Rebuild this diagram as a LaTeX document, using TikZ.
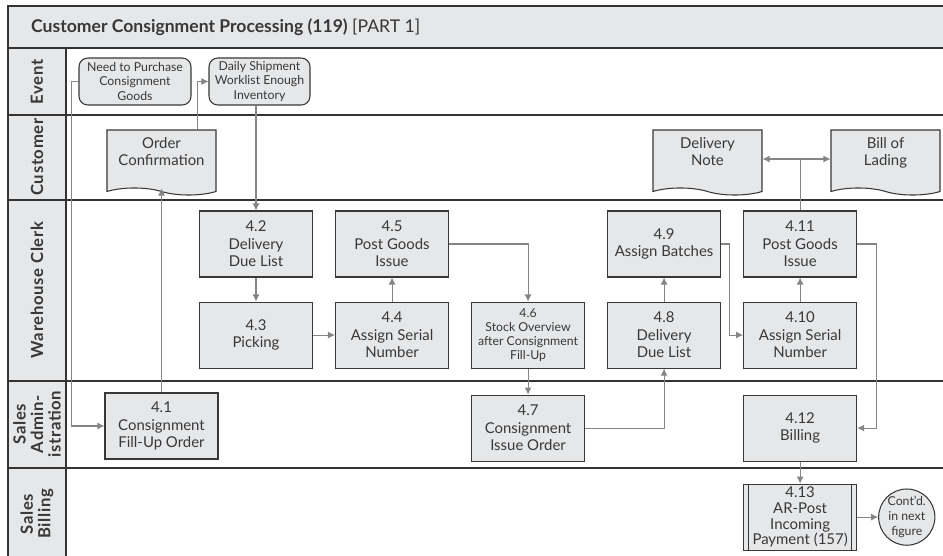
\documentclass[tikz,border=0pt]{standalone}
\usepackage{fontspec}
\setmainfont{Lato}
\usepackage{tikz}
\usetikzlibrary {arrows.meta,
                 positioning,
                 shapes.symbols}
\definecolor{boxgray}{HTML}{E6E7E9}
\definecolor{linegray}{HTML}{858585}
\definecolor{inkgray}{HTML}{383838}
\tikzset{
        base/.style={draw=inkgray, fill=boxgray, align=center, line width=0.6pt,
                     text=inkgray, font=\fontsize{8.5}{10}\selectfont},
        proc/.style={base, rectangle, minimum width=2.26cm,
                     minimum height=1.32cm, inner sep=1pt},
        event/.style={base, rounded corners=5pt, minimum height=0.94cm,
                      inner sep=1pt, font=\fontsize{7}{8.5}\selectfont},
        doc/.style={base, tape, tape bend top=none, tape bend bottom=out and in,
                    tape bend height=4pt, minimum width=2.18cm,
                    minimum height=1.3cm, text depth=0.3cm},
        subproc/.style={proc, font=\fontsize{8.5}{9}\selectfont,
                        path picture={
                          \draw[inkgray, line width=0.6pt]
                            ([xshift=0.1cm]path picture bounding box.north west) --
                            ([xshift=0.1cm]path picture bounding box.south west);
                          \draw[inkgray, line width=0.6pt]
                            ([xshift=-0.1cm]path picture bounding box.north east) --
                            ([xshift=-0.1cm]path picture bounding box.south east);
                        }},
        connector/.style={base, circle, minimum size=1.08cm, inner sep=0pt,
                          font=\fontsize{7}{8.5}\selectfont},
        lanelabel/.style={rotate=90, align=center, text=inkgray,
                          font=\bfseries\fontsize{9.5}{10}\selectfont
                               \addfontfeature{LetterSpace=4}},
        lane/.style={draw=black!80, line width=0.6pt},
        myarrow/.style={-{Latex[length=4pt, width=4pt]}, draw=linegray,
                        line width=0.6pt},
 }

\begin{document}
\begin{tikzpicture}[x=0.02cm, y=-0.02cm, node distance=0.48cm and 0.44cm]
    \useasboundingbox (0,0) rectangle (943,555);

    \fill[boxgray] (8,6) rectangle (960,48);
    \fill[boxgray] (8,48) rectangle (66,570);
    \draw[lane] (8,570) -- (8,6) -- (960,6);
    \draw[lane] (66,48) -- (66,570);
    \foreach \y in {48,115,200,381,468}
        \draw[lane] (8,\y) -- (960,\y);

    \node[anchor=west, text=inkgray, font=\fontsize{10}{12}\selectfont] (title) at (25,27)
         {\textbf{Customer Consignment Processing (119)} [PART 1]};

    \foreach \y/\t/\n in {82/Event/l1, 157/Customer/l2, 290/Warehouse Clerk/l3,
                          424/{Sales\\Admin-\\istration}/l4, 514/{Sales\\Billing}/l5}
        \node[lanelabel] (\n) at (37,\y) {\t};

    \node[event, minimum width=2.24cm] (ev1) at (135,81.5)
          {Need to Purchase\\Consignment\\Goods};
    \node[event, minimum width=2.02cm] (ev2) at (259.5,81.5)
          {Daily Shipment\\Worklist Enough\\Inventory};

    \node[doc] (conf) at (161.5,159) {Order\\Confirmation};
    \node[doc] (dnote) at (707.5,159) {Delivery\\Note};
    \node[doc] (bill) at (885.5,159) {Bill of\\Lading};

    \node[proc] (p41) at (161.5,426) {4.1\\Consignment\\Fill-Up Order};
    \node[proc] (p42) at (256,244) {4.2\\Delivery\\Due List};
    \node[proc, below= of p42] (p43) {4.3\\Picking};
    \node[proc, right= of p43] (p44) {4.4\\Assign Serial\\Number};
    \node[proc, above= of p44] (p45) {4.5\\Post Goods\\Issue};
    \node[proc, right= of p44, font=\fontsize{7}{8}\selectfont] (p46)
          {4.6\\Stock Overview\\after Consignment\\Fill-Up};
    \node[proc, below=0.52cm of p46] (p47) {4.7\\Consignment\\Issue Order};
    \node[proc, right= of p46] (p48) {4.8\\Delivery\\Due List};
    \node[proc, above= of p48] (p49) {4.9\\Assign Batches};
    \node[proc, right= of p48] (p410) {4.10\\Assign Serial\\Number};
    \node[proc, above= of p410] (p411) {4.11\\Post Goods\\Issue};
    \node[proc, below=0.52cm of p410] (p412) {4.12\\Billing};
    \node[subproc, below=0.44cm of p412] (p413)
          {4.13\\AR-Post\\Incoming\\Payment (157)};
    \node[connector, right=0.42cm of p413] (cont) {Cont'd.\\in next\\figure};

    \draw[myarrow] (ev1.west) -- ++(-7,0) |- (p41.west);
    \draw[myarrow] (p41.north) -- (conf.south);
    \draw[myarrow] ([xshift=-0.38cm]conf.north east) |- (ev2.west);
    \draw[myarrow] (p42 |- ev2.south) -- (p42.north);
    \draw[myarrow] (p42) -- (p43);
    \draw[myarrow] (p43) -- (p44);
    \draw[myarrow] (p44) -- (p45);
    \draw[myarrow] (p45.east) -| (p46.north);
    \draw[myarrow] (p46) -- (p47);
    \draw[myarrow] (p47.east) -| (p48.south);
    \draw[myarrow] (p48) -- (p49);
    \draw[myarrow] (p49.east) -- ++(8,0) |- (p410.west);
    \draw[myarrow] (p410) -- (p411);
    \draw[myarrow] (p411.north) |- (dnote.east);
    \draw[myarrow] (p411.north) |- (bill.west);
    \draw[myarrow] (p411.east) -- ++(19,0) |- (p412.east);
    \draw[myarrow] (p412) -- (p413);
    \draw[myarrow] (p413) -- (cont);

\end{tikzpicture}
\end{document}
